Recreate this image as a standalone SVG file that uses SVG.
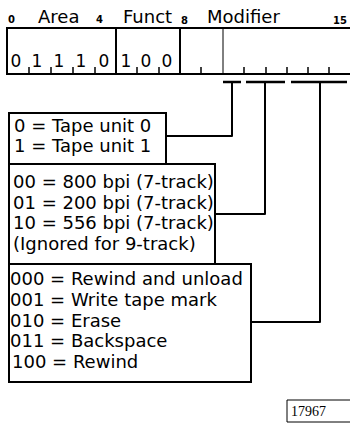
<svg xmlns="http://www.w3.org/2000/svg" width="350" height="425" viewBox="0 0 350 425">
<style>
.t{font-family:"DejaVu Sans","Liberation Sans",sans-serif;font-size:18px;fill:#000}
.d{font-family:"DejaVu Sans","Liberation Sans",sans-serif;font-size:17px;fill:#000;text-anchor:middle}
.n{font-family:"DejaVu Sans","Liberation Sans",sans-serif;font-size:10px;font-weight:bold;fill:#000}
.s{font-family:"Liberation Serif",serif;font-size:14px;fill:#000}
.b{fill:none;stroke:#000;stroke-width:2}
.thin{fill:none;stroke:#000;stroke-width:1}
.tk{stroke:#000;stroke-width:1.5}
.c{fill:none;stroke:#000;stroke-width:2;stroke-linejoin:round}
.br{stroke:#000;stroke-width:2.5}
</style>
<rect width="350" height="425" fill="#fff"/>
<g id="register">
  <text class="n" x="8" y="23">0</text>
  <text class="t" x="38" y="23">Area</text>
  <text class="n" x="96" y="23">4</text>
  <text class="t" x="123" y="23">Funct</text>
  <text class="n" x="181" y="24">8</text>
  <text class="t" x="207" y="23">Modifier</text>
  <text class="n" x="333" y="24">15</text>
  <path class="b" d="M350 28 H7 V74 H350"/>
  <line class="b" x1="116" y1="28" x2="116" y2="74"/>
  <line class="b" x1="180" y1="28" x2="180" y2="74"/>
  <line class="thin" x1="223" y1="28" x2="223" y2="74"/>
  <g class="tk">
    <line x1="29" y1="67" x2="29" y2="74"/>
    <line x1="51" y1="67" x2="51" y2="74"/>
    <line x1="73" y1="67" x2="73" y2="74"/>
    <line x1="95" y1="67" x2="95" y2="74"/>
    <line x1="137" y1="67" x2="137" y2="74"/>
    <line x1="159" y1="67" x2="159" y2="74"/>
    <line x1="201" y1="67" x2="201" y2="74"/>
    <line x1="244" y1="67" x2="244" y2="74"/>
    <line x1="266" y1="67" x2="266" y2="74"/>
    <line x1="287" y1="67" x2="287" y2="74"/>
    <line x1="308" y1="67" x2="308" y2="74"/>
    <line x1="329" y1="67" x2="329" y2="74"/>
  </g>
  <text class="d" x="16" y="67">0</text>
  <text class="d" x="37" y="67">1</text>
  <text class="d" x="59" y="67">1</text>
  <text class="d" x="81" y="67">1</text>
  <text class="d" x="104" y="67">0</text>
  <text class="d" x="126" y="67">1</text>
  <text class="d" x="146" y="67">0</text>
  <text class="d" x="167" y="67">0</text>
</g>
<g id="connectors">
  <line class="br" x1="223" y1="82" x2="241" y2="82"/>
  <line class="br" x1="246" y1="82" x2="285" y2="82"/>
  <line class="br" x1="291" y1="82" x2="347" y2="82"/>
  <polyline class="c" points="232,82 232,136 166,136"/>
  <polyline class="c" points="265,82 265,214 215,214"/>
  <polyline class="c" points="320,82 320,322 251,322"/>
</g>
<g id="unit">
  <rect class="b" x="9" y="113" width="157" height="51"/>
  <text class="t" x="14" y="132">0 = Tape unit 0</text>
  <text class="t" x="14" y="152">1 = Tape unit 1</text>
</g>
<g id="density">
  <rect class="b" x="9" y="164" width="206" height="100"/>
  <text class="t" x="13" y="188">00 = 800 bpi (7-track)</text>
  <text class="t" x="13" y="209">01 = 200 bpi (7-track)</text>
  <text class="t" x="13" y="229">10 = 556 bpi (7-track)</text>
  <text class="t" x="13" y="250">(Ignored for 9-track)</text>
</g>
<g id="operation">
  <rect class="b" x="9" y="264" width="242" height="118"/>
  <text class="t" x="10" y="285">000 = Rewind and unload</text>
  <text class="t" x="10" y="306">001 = Write tape mark</text>
  <text class="t" x="10" y="327">010 = Erase</text>
  <text class="t" x="10" y="347">011 = Backspace</text>
  <text class="t" x="12" y="368">100 = Rewind</text>
</g>
<g id="figure-number">
  <path class="thin" d="M351 400 H287 V422 H351"/>
  <text class="s" x="291" y="416">17967</text>
</g>
</svg>
